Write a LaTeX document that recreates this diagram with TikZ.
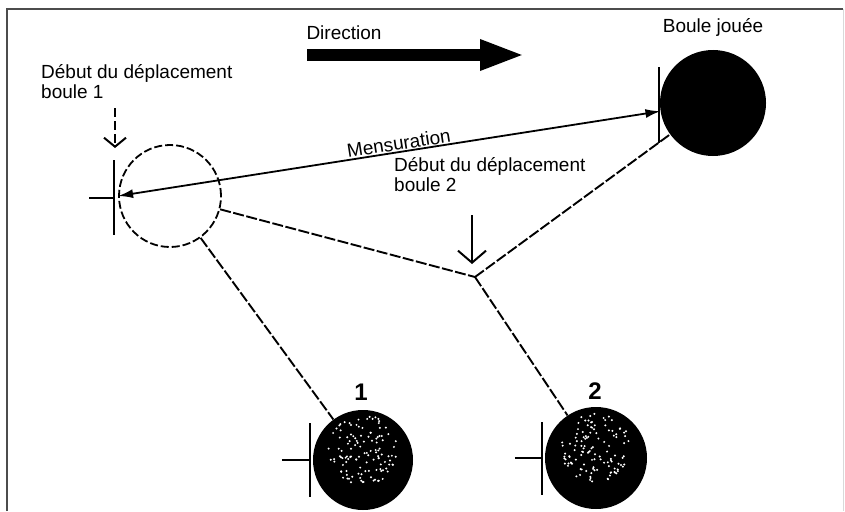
\documentclass[tikz,border=0pt]{standalone}
\usepackage{fontspec}
\setmainfont{Liberation Sans}
\usetikzlibrary{arrows,arrows.meta,calc,positioning}

\tikzset{
  ball/.style={circle,fill=black,inner sep=0pt,minimum size=#1},
  ghostball/.style={circle,draw,dash pattern=on 8pt off 3pt,line width=1.8pt,inner sep=0pt,minimum size=#1},
  trajet/.style={line width=1.9pt,dash pattern=on 11pt off 2.5pt},
  repere/.style={line width=2pt},
  txt/.style={font=\fontsize{19}{20}\selectfont,align=left,inner sep=1pt},
  numero/.style={font=\bfseries\fontsize{24}{24}\selectfont,inner sep=0pt}
}

\begin{document}
\begin{tikzpicture}[x=1pt,y=-1pt]
\useasboundingbox (0,0) rectangle (845,511);
\draw[line width=2pt,black!70] (7,511) -- (7,9) -- (843,9);
\draw[line width=1pt,black!15] (843,9) -- (843,511);

% the balls
\node[ball=106] (jouee) at (713,103) {};
\node[ghostball=102] (depart1) at (170,196) {};
\node[ball=100] (boule1) at (363,460) {};
\node[ball=102] (boule2) at (596,458) {};
\coordinate (depart2) at (475,277);
\pgfmathsetseed{7}
\foreach \b in {boule1,boule2}
  \foreach \i in {1,...,120} {
    \pgfmathsetmacro\ang{360*rnd}
    \pgfmathsetmacro\rad{35*sqrt(rnd)}
    \fill[white] ($(\b.center)+(0,-10)+(\ang:\rad)$) circle (1.1);
  }

% ticks
\draw[repere] ($(jouee.west)+(-1,-36)$) -- ($(jouee.west)+(-1,40)$);
\draw[repere] ($(depart1.west)+(-4,-36)$) -- ($(depart1.west)+(-4,39)$);
\draw[line width=1.2pt] ($(depart1.west)+(-29,2)$) -- ($(depart1.west)+(-4,2)$);
\draw[repere] ($(boule1.west)+(-3,-37)$) -- ($(boule1.west)+(-3,37)$);
\draw[line width=1.2pt] ($(boule1.west)+(-31,0)$) -- ($(boule1.west)+(-3,0)$);
\draw[repere] ($(boule2.west)+(-3,-36)$) -- ($(boule2.west)+(-3,37)$);
\draw[line width=1.2pt] ($(boule2.west)+(-30,0)$) -- ($(boule2.west)+(-3,0)$);

% paths
\draw[line width=1.8pt,{Latex[length=15pt,width=9pt]}-{Latex[length=15pt,width=9pt]}] (depart1.west) -- (jouee)
  node[pos=0.52,above,sloped,txt] {Mensuration};
\draw[trajet] (depart1) -- (boule1);
\draw[trajet] (depart1) -- (depart2);
\draw[trajet] (depart2) -- (jouee);
\draw[trajet] (depart2) -- (boule2);

% texts
\node[txt,anchor=west] (texte1) at (40,82) {Début du déplacement\\boule 1};
\node[txt,anchor=west] (texte2) at (393,175) {Début du déplacement\\boule 2};
\node[txt] (titrejouee) at (713,27) {Boule jouée};
\node[txt] (direction) at (344,33) {Direction};
\node[numero] (num1) at (361,392) {1};
\node[numero] (num2) at (595,391) {2};

% arrows
\coordinate (fleche1a) at (115,108);
\coordinate (fleche1b) at (115,148);
\coordinate (fleche2a) at (472,215);
\coordinate (fleche2b) at (472,264);
\draw[line width=2pt,dash pattern=on 9pt off 4pt,-{Straight Barb[length=9pt,width=22pt]}] (fleche1a) -- (fleche1b);
\draw[line width=2pt,-{Straight Barb[length=12pt,width=28pt]}] (fleche2a) -- (fleche2b);
\draw[line width=12pt,-{Triangle[length=45pt,width=28pt]}] ($(direction.center)+(-37,22)$) -- ($(direction.center)+(181,22)$);
\end{tikzpicture}
\end{document}
